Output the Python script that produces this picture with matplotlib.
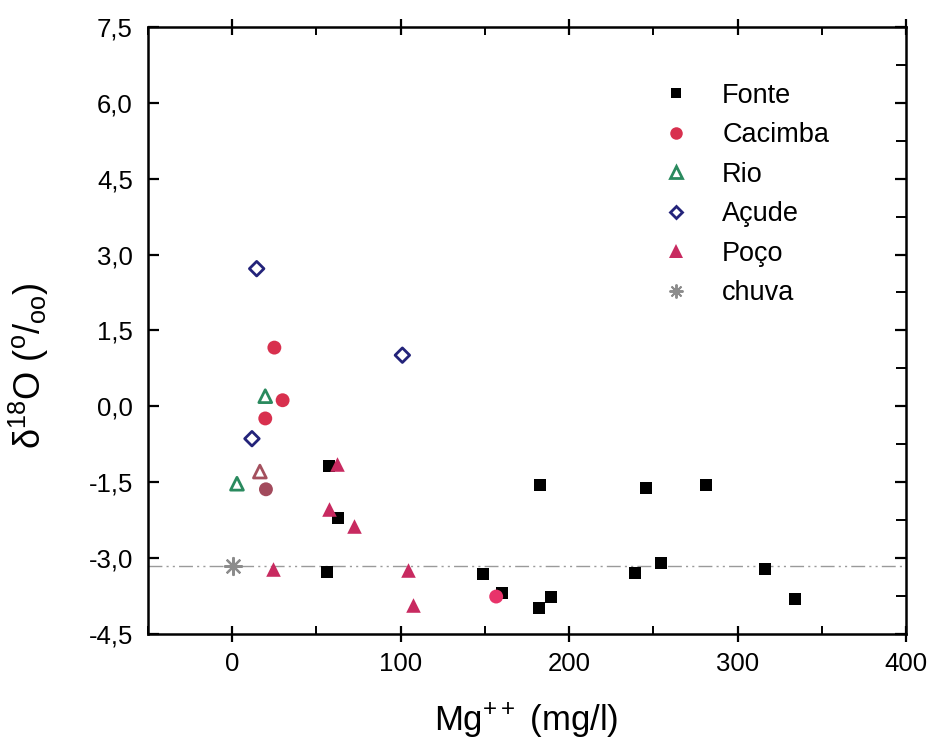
import matplotlib
matplotlib.use("Agg")
import matplotlib.pyplot as plt
from matplotlib.lines import Line2D
from matplotlib.ticker import MultipleLocator, FuncFormatter

plt.rcParams['font.family'] = ['Liberation Sans', 'DejaVu Sans']
plt.rcParams['mathtext.fontset'] = 'custom'
plt.rcParams['mathtext.rm'] = 'Liberation Sans'
plt.rcParams['mathtext.it'] = 'Liberation Sans:italic'

# ---- data ----
fonte_x = [57.6, 63.0, 56.3, 149.1, 160.2, 182.8, 245.8, 281.0, 254.3, 238.9, 316.1, 189.4, 182.4, 333.9]
fonte_y = [-1.17, -2.20, -3.27, -3.31, -3.68, -1.56, -1.61, -1.55, -3.09, -3.30, -3.21, -3.76, -3.99, -3.80]

cacimba_x = [25.0, 29.9, 19.6, 20.0, 156.7]
cacimba_y = [1.16, 0.12, -0.24, -1.64, -3.76]
cacimba_c = ['#d8304e', '#d8304e', '#d8304e', '#a24a5c', '#e8336a']

rio_x = [19.6, 2.8, 16.4]
rio_y = [0.20, -1.53, -1.29]
rio_c = ['#2a8a5e', '#2a8a5e', '#a4505e']

acude_x = [14.5, 101.0, 11.7]
acude_y = [2.72, 1.01, -0.64]

poco_x = [62.2, 57.2, 72.5, 24.0, 104.2, 107.1]
poco_y = [-1.15, -2.03, -2.37, -3.21, -3.24, -3.93]

chuva_x = [0.2]
chuva_y = [-3.16]
chuva_mean = -3.16

labels = ['Fonte', 'Cacimba', 'Rio', 'Açude', 'Poço', 'chuva']
x_ticks = [0, 100, 200, 300, 400]

# ---- colours ----
c_fonte = '#000000'
c_cac = '#d8304e'
c_rio = '#2a8a5e'
c_acu = '#23237a'
c_poco = '#c82a60'
c_chuva = '#8c8c8c'

fig = plt.figure(figsize=(9.34, 7.45), dpi=100)
ax = fig.add_axes([0.1585, 0.149, 0.8115, 0.815])

ax.axhline(chuva_mean, color='#9a9a9a', lw=1.0, ls=(0, (10, 3, 1.5, 3, 1.5, 3)), zorder=1)

ax.scatter(fonte_x, fonte_y, marker='s', s=75, color=c_fonte, lw=0, zorder=3)
ax.scatter(cacimba_x, cacimba_y, marker='o', s=100, c=cacimba_c, lw=0, zorder=4)
ax.scatter(rio_x, rio_y, marker='^', s=85, facecolors='none', edgecolors=rio_c, lw=2.0, zorder=4)
ax.scatter(acude_x, acude_y, marker='D', s=55, facecolors='none', edgecolors=c_acu, lw=2.0, zorder=4)
ax.scatter(poco_x, poco_y, marker='^', s=110, color=c_poco, lw=0, zorder=4)
ax.scatter(chuva_x, chuva_y, marker=(8, 2, 0), s=150, color=c_chuva, lw=1.6, zorder=4)

ax.set_xlim(-50, 400)
ax.set_ylim(-4.5, 7.5)

ax.xaxis.set_major_locator(MultipleLocator(100))
ax.xaxis.set_minor_locator(MultipleLocator(50))
ax.yaxis.set_major_locator(MultipleLocator(1.5))
ax.yaxis.set_minor_locator(MultipleLocator(0.75))
ax.set_xticks(x_ticks)
ax.xaxis.set_major_formatter(FuncFormatter(lambda v, p: f"{v:.0f}"))
ax.yaxis.set_major_formatter(FuncFormatter(lambda v, p: f"{v:.1f}".replace('.', ',')))

ax.tick_params(axis='x', which='major', direction='inout', length=12, width=1.6,
               labelsize=18.5, pad=7, top=True)
ax.tick_params(axis='x', which='minor', direction='in', length=6, width=1.4, top=True)
ax.tick_params(axis='y', which='major', direction='in', length=8, width=1.6,
               labelsize=18.5, pad=11, right=True)
ax.tick_params(axis='y', which='minor', direction='in', length=7, width=1.4, left=False, right=True)

for sp in ax.spines.values():
    sp.set_linewidth(1.8)

ax.set_xlabel('Mg$^{++}$ (mg/l)', fontsize=25)
ax.xaxis.set_label_coords(0.499, -0.112)
ax.set_ylabel(r'δ$^{18}$O ($^{\mathrm{o}}$/$_{\mathrm{oo}}$)', fontsize=26)
ax.yaxis.set_label_coords(-0.128, 0.4415)

handles = [
    Line2D([], [], ls='none', marker='s', ms=7, color=c_fonte, mew=0),
    Line2D([], [], ls='none', marker='o', ms=9, color=c_cac, mew=0),
    Line2D([], [], ls='none', marker='^', ms=8, mfc='none', mec=c_rio, mew=2.0),
    Line2D([], [], ls='none', marker='D', ms=6.5, mfc='none', mec=c_acu, mew=2.0),
    Line2D([], [], ls='none', marker='^', ms=10, color=c_poco, mew=0),
    Line2D([], [], ls='none', marker=(8, 2, 0), ms=10, color=c_chuva, mew=1.4),
]
ax.legend(handles, labels, loc='upper left', bbox_to_anchor=(0.661, 0.926), frameon=False,
          fontsize=19.5, labelspacing=0.5, handletextpad=1.1, handlelength=1.2,
          borderaxespad=0)

fig.savefig('out.png', dpi=100)
